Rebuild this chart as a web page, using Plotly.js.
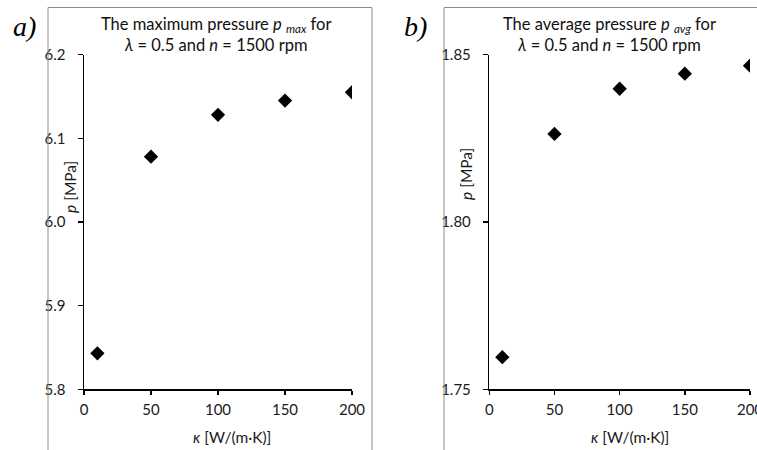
<!DOCTYPE html>
<html><head><meta charset="utf-8">
<script src="https://cdn.plot.ly/plotly-3.0.1.min.js"></script>
<style>html,body{margin:0;padding:0;background:#fff}#chart{width:757px;height:450px}</style>
</head><body><div id="chart"></div>
<script>
// Data
const kappa = [10, 50, 100, 150, 200];
const pMax = [5.843, 6.078, 6.128, 6.145, 6.155];
const pAvg = [1.7596, 1.8263, 1.8398, 1.8443, 1.8467];
const titleA = 'The maximum pressure <i>p</i> <sub><i>max</i></sub> for<br><i>λ</i> = 0.5 and <i>n</i> = 1500 rpm';
const titleB = 'The average pressure <i>p</i> <sub><i>avg</i></sub> for<br><i>λ</i> = 0.5 and <i>n</i> = 1500 rpm';
const yTitle = '<i>p</i> [MPa]';
const xTitle = '<i>κ</i> [W/(m·K)]';

const W = 757, H = 450;
const px = v => v / W, py = v => 1 - v / H;
const FONT = 'Lato, "Open Sans", sans-serif';

const marker = {symbol: 'diamond', size: 11, color: '#000'};
const traces = [
  {x: kappa, y: pMax, type: 'scatter', mode: 'markers', marker, xaxis: 'x', yaxis: 'y', hoverinfo: 'skip'},
  {x: kappa, y: pAvg, type: 'scatter', mode: 'markers', marker, xaxis: 'x2', yaxis: 'y2', hoverinfo: 'skip'}
];

const xCommon = {range: [0, 200], dtick: 50, tick0: 0, showline: true, linecolor: '#000', linewidth: 1.5,
  ticks: 'outside', ticklen: 4, tickcolor: '#000', tickwidth: 1.5, showgrid: false, zeroline: false,
  ticklabeloverflow: 'allow', ticklabelstandoff: 2,
  tickfont: {family: FONT, size: 15, color: '#1a1a1a'}, fixedrange: true};
const yCommon = {showline: true, linecolor: '#000', linewidth: 1.5, ticks: 'outside', ticklen: 5,
  tickcolor: '#000', tickwidth: 1.5, showgrid: false, zeroline: false, ticklabelstandoff: 9,
  tickfont: {family: FONT, size: 15, color: '#1a1a1a'}, fixedrange: true};

const layout = {
  width: W, height: H, showlegend: false,
  margin: {l: 0, r: 0, t: 0, b: 0},
  paper_bgcolor: '#fff', plot_bgcolor: 'rgba(0,0,0,0)',
  xaxis: Object.assign({}, xCommon, {domain: [px(84), px(352)], anchor: 'y'}),
  yaxis: Object.assign({}, yCommon, {domain: [py(389.3), py(54.6)], range: [5.8, 6.2], dtick: 0.1, tickformat: '.1f', anchor: 'x'}),
  xaxis2: Object.assign({}, xCommon, {domain: [px(489.3), px(750)], anchor: 'y2'}),
  yaxis2: Object.assign({}, yCommon, {domain: [py(389.3), py(54.6)], range: [1.75, 1.85], dtick: 0.05, tickformat: '.2f', anchor: 'x2'}),
  shapes: [
    {type: 'rect', xref: 'paper', yref: 'paper', x0: px(48), x1: px(372), y0: py(460), y1: py(7.5), line: {color: '#8c8c8c', width: 1}},
    {type: 'rect', xref: 'paper', yref: 'paper', x0: px(444), x1: px(770), y0: py(460), y1: py(7.5), line: {color: '#8c8c8c', width: 1}}
  ],
  annotations: [
    {text: titleA, xref: 'paper', yref: 'paper', x: px(216), y: py(34), xanchor: 'center', yanchor: 'middle', showarrow: false, font: {family: FONT, size: 16.5, color: '#111'}},
    {text: titleB, xref: 'paper', yref: 'paper', x: px(609), y: py(34), xanchor: 'center', yanchor: 'middle', showarrow: false, font: {family: FONT, size: 16.5, color: '#111'}},
    {text: '<i>a)</i>', xref: 'paper', yref: 'paper', x: px(24), y: py(26), xanchor: 'center', yanchor: 'middle', showarrow: false, font: {family: '"Liberation Serif", serif', size: 28, color: '#000'}},
    {text: '<i>b)</i>', xref: 'paper', yref: 'paper', x: px(415), y: py(26), xanchor: 'center', yanchor: 'middle', showarrow: false, font: {family: '"Liberation Serif", serif', size: 28, color: '#000'}},
    {text: yTitle, xref: 'paper', yref: 'paper', x: px(70), y: py(187), textangle: -90, xanchor: 'center', yanchor: 'middle', showarrow: false, font: {family: FONT, size: 15.5, color: '#1a1a1a'}},
    {text: yTitle, xref: 'paper', yref: 'paper', x: px(466), y: py(174), textangle: -90, xanchor: 'center', yanchor: 'middle', showarrow: false, font: {family: FONT, size: 15.5, color: '#1a1a1a'}},
    {text: xTitle, xref: 'paper', yref: 'paper', x: px(232), y: py(437), xanchor: 'center', yanchor: 'middle', showarrow: false, font: {family: FONT, size: 15.5, color: '#1a1a1a'}},
    {text: xTitle, xref: 'paper', yref: 'paper', x: px(630), y: py(437), xanchor: 'center', yanchor: 'middle', showarrow: false, font: {family: FONT, size: 15.5, color: '#1a1a1a'}}
  ]
};

Plotly.newPlot('chart', traces, layout, {staticPlot: true, displayModeBar: false});
</script>
</body></html>
